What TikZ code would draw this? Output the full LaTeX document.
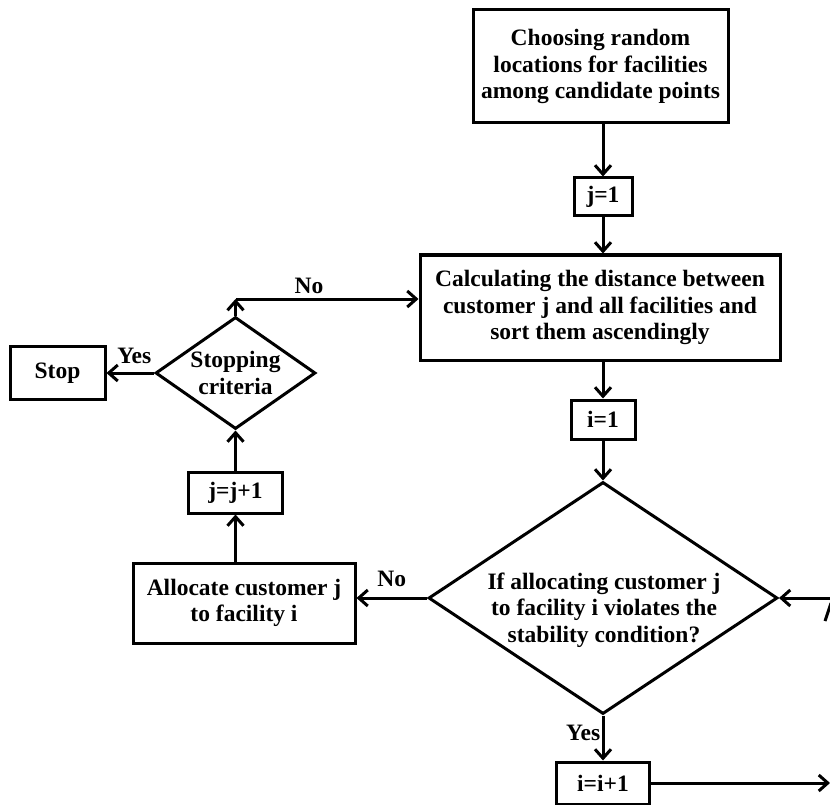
\documentclass[tikz,border=0pt]{standalone}
\usepackage{fontspec}
\setmainfont{Liberation Serif}
\usetikzlibrary{shapes.geometric,arrows.meta}

\begin{document}
\begin{tikzpicture}[x=1pt, y=-1pt, line width=3pt,
	font=\fontsize{23.5}{26.5}\selectfont\bfseries,
	>={Straight Barb[length=9pt,width=16pt]},
	box/.style={draw, rectangle, align=center, inner sep=0pt},
	cond/.style={draw, diamond, align=center, inner sep=0pt}]
		\useasboundingbox (0,0) rectangle (830,805);
		\path
		(235.5,299) coordinate (B)
		(830,0) coordinate (R)
		;
		% main column
		\node[box, minimum width=255, minimum height=113] (choose) at (600.5,66.5) {Choosing random\\locations for facilities\\among candidate points};
		\node[box, minimum width=58, minimum height=38] (j1) at (603,197) {j=1};
		\node[box, minimum width=360, minimum height=105] (dist) at (600,307.5) {Calculating the distance between\\customer j and all facilities and\\sort them ascendingly};
		\node[box, minimum width=64, minimum height=39] (i1) at (603,419.5) {i=1};
		\node[cond, minimum width=349, minimum height=232] (viol) at (603,598) {};
		\node[align=center, inner sep=0pt] (violtext) at (604,610) {If allocating customer j\\to facility i violates the\\stability condition?};
		\node[box, minimum width=93, minimum height=42] (inc) at (603,783) {i=i+1};
		
		% left column
		\node[box, minimum width=222, minimum height=80] (alloc) at (244,603) {Allocate customer j\\to facility i};
		\node[box, minimum width=94, minimum height=41] (jinc) at (235.5,492.5) {j=j+1};
		\node[cond, shape aspect=1.43, minimum width=160, minimum height=112] (crit) at (235.5,373) {Stopping\\criteria};
		\node[box, minimum width=95, minimum height=53] (stop) at (57.5,373) {Stop};
		
		\draw[->] (choose.south -| j1) -- (j1);
		\draw[->] (j1) -- (dist.north -| j1);
		\draw[->] (dist.south -| i1) -- (i1);
		\draw[->] (i1) -- (viol.north);
		\draw[->] (viol.south) -- node[pos=0.5, left=-2pt, yshift=5pt]{Yes} (inc);
		\draw[->] (inc.east) -- (inc.east -| R);
		\draw[->] (viol.east -| R) -- (viol.east);
		\draw (825,621) -- (831,603);
		
		\draw[->] (viol.west) -- node[above, yshift=6pt]{No} (viol.west -| alloc.east);
		\draw[->] (alloc.north -| jinc) -- (jinc);
		\draw[->] (jinc) -- (crit.south);
		\draw[->] (crit.west) -- node[above, xshift=4pt, yshift=4pt]{Yes} (stop.east |- crit.west);
		\draw[->] (crit.north) -- (B);
		\draw[->] (B) -- node[above, xshift=-18pt]{No} (B -| dist.west);
	\end{tikzpicture}
\end{document}
